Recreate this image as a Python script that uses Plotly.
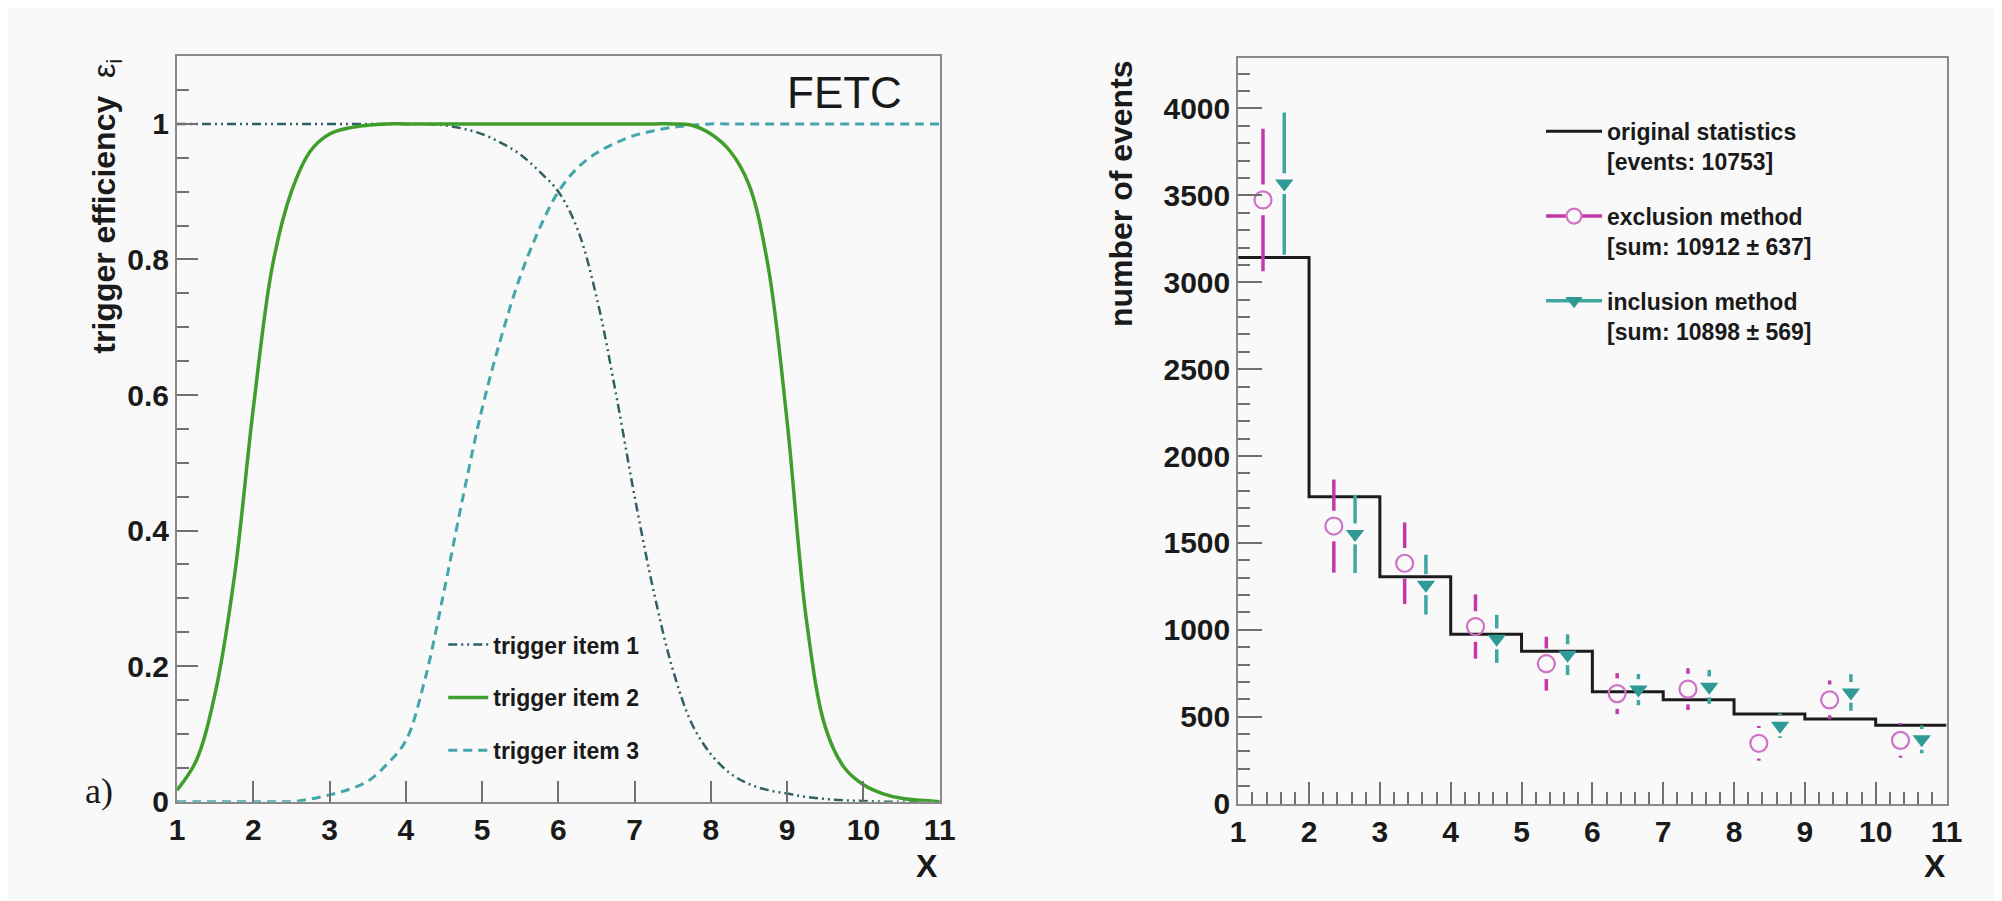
import plotly.graph_objects as go

# ---------------- data: left panel (trigger efficiencies) ----------------
x_eff = [1.0, 1.25, 1.5, 1.75, 2.0, 2.25, 2.5, 2.75, 3.0, 3.25, 3.5, 3.75, 4.0, 4.25,
         4.5, 4.75, 5.0, 5.25, 5.5, 5.75, 6.0, 6.25, 6.5, 6.75, 7.0, 7.25, 7.5, 7.75,
         8.0, 8.25, 8.5, 8.75, 9.0, 9.25, 9.5, 9.75, 10.0, 10.25, 10.5, 10.75, 11.0]
item1 = [1, 1, 1, 1, 1, 1, 1, 1, 1, 1, 1, 1, 1, 1,
         0.998, 0.993, 0.985, 0.972, 0.955, 0.93, 0.9, 0.845, 0.745, 0.605, 0.45, 0.31, 0.195, 0.115,
         0.07, 0.042, 0.026, 0.017, 0.012, 0.007, 0.004, 0.002, 0.001, 0, 0, 0, 0]
item2 = [0.017, 0.06, 0.16, 0.33, 0.58, 0.79, 0.9, 0.96, 0.985, 0.994, 0.998, 1, 1, 1,
         1, 1, 1, 1, 1, 1, 1, 1, 1, 1, 1, 1, 1, 0.998,
         0.985, 0.96, 0.91, 0.79, 0.56, 0.27, 0.11, 0.05, 0.025, 0.012, 0.005, 0.002, 0.0]
item3 = [0, 0, 0, 0, 0, 0, 0, 0.004, 0.01, 0.018, 0.03, 0.055, 0.09, 0.18,
         0.31, 0.45, 0.58, 0.685, 0.775, 0.845, 0.9, 0.935, 0.957, 0.972, 0.983, 0.99, 0.995, 0.998,
         1, 1, 1, 1, 1, 1, 1, 1, 1, 1, 1, 1, 1]
eff_names = ["trigger item 1", "trigger item 2", "trigger item 3"]

# ---------------- data: right panel (number of events) ----------------
bin_edges = [1, 2, 3, 4, 5, 6, 7, 8, 9, 10, 11]
orig_counts = [3143, 1766, 1305, 974, 877, 643, 597, 516, 487, 451]
excl_val = [3474, 1597, 1383, 1019, 805, 633, 659, 347, 597, 364]
excl_err = [410, 268, 235, 185, 155, 118, 120, 100, 112, 100]
incl_val = [3568, 1552, 1260, 948, 857, 656, 672, 448, 640, 370]
incl_err = [409, 225, 172, 138, 117, 90, 98, 70, 105, 80]
hist_names = ["original statistics<br>[events: 10753]",
              "exclusion method<br>[sum: 10912 ± 637]",
              "inclusion method<br>[sum: 10898 ± 569]"]

# ---------------- style ----------------
FONT = "Liberation Sans, Arial, Helvetica, sans-serif"
BG = "#f9f9f9"
FRAME = "#8a8a8a"
TICKC = "#707070"
TXT = "#1a1a1a"
C_ITEM1 = "#2e6164"
C_ITEM2 = "#3f9e2c"
C_ITEM3 = "#43a6ab"
C_EX_BAR = "#c23aa8"
C_EX_MK = "#cf72c6"
C_IN = "#2f9a95"
C_IN_BAR = "#3fa7a2"
EX_OFF, IN_OFF = 0.35, 0.65     # horizontal placement inside the bin
EX_GAP, IN_GAP = 88, 60         # gap of error bars around the markers (events)

fig = go.Figure()

# left panel curves
fig.add_trace(go.Scatter(x=x_eff, y=item1, mode="lines", name=eff_names[0],
                         line=dict(color=C_ITEM1, width=2.5, shape="spline",
                                   dash="9px,4px,2px,4px,2px,4px"),
                         xaxis="x", yaxis="y", legend="legend", legendgroup="i1", legendrank=1))
fig.add_trace(go.Scatter(x=x_eff, y=item3, mode="lines", name=eff_names[2],
                         line=dict(color=C_ITEM3, width=3, shape="spline", dash="9px,6px"),
                         xaxis="x", yaxis="y", legend="legend", legendgroup="i3", legendrank=3))
fig.add_trace(go.Scatter(x=x_eff, y=item2, mode="lines", name=eff_names[1],
                         line=dict(color=C_ITEM2, width=3.5, shape="spline"),
                         xaxis="x", yaxis="y", legend="legend", legendgroup="i2", legendrank=2))


def bar_segments(xs, vals, errs, gap):
    sx, sy = [], []
    for x, v, e in zip(xs, vals, errs):
        if e > gap:
            sx += [x, x, None, x, x, None]
            sy += [v - e, v - gap, None, v + gap, v + e, None]
    return sx, sy


centers_ex = [e + EX_OFF for e in bin_edges[:-1]]
centers_in = [e + IN_OFF for e in bin_edges[:-1]]

# right panel: histogram
fig.add_trace(go.Scatter(x=bin_edges, y=orig_counts + [orig_counts[-1]], mode="lines",
                         line=dict(color="#1c1c1c", width=3, shape="hv"),
                         name=hist_names[0], xaxis="x2", yaxis="y2",
                         legend="legend2", legendgroup="h1", legendrank=1))

# exclusion method
ex_sx, ex_sy = bar_segments(centers_ex, excl_val, excl_err, EX_GAP)
fig.add_trace(go.Scatter(x=ex_sx, y=ex_sy, mode="lines", line=dict(color=C_EX_BAR, width=3.5),
                         showlegend=False, xaxis="x2", yaxis="y2", hoverinfo="skip"))
fig.add_trace(go.Scatter(x=centers_ex, y=excl_val, mode="markers",
                         marker=dict(symbol="circle-open", size=17, color=C_EX_MK,
                                     line=dict(width=2.2, color=C_EX_MK)),
                         showlegend=False, xaxis="x2", yaxis="y2"))

# inclusion method
in_sx, in_sy = bar_segments(centers_in, incl_val, incl_err, IN_GAP)
fig.add_trace(go.Scatter(x=in_sx, y=in_sy, mode="lines", line=dict(color=C_IN_BAR, width=3.5),
                         showlegend=False, xaxis="x2", yaxis="y2", hoverinfo="skip"))
fig.add_trace(go.Scatter(x=centers_in, y=incl_val, mode="markers",
                         marker=dict(symbol="triangle-down", size=16, color=C_IN,
                                     line=dict(width=0)),
                         showlegend=False, xaxis="x2", yaxis="y2"))

# legend-only entries for the methods
fig.add_trace(go.Scatter(x=[None], y=[None], mode="lines+markers", name=hist_names[1],
                         line=dict(color=C_EX_BAR, width=3.5),
                         marker=dict(symbol="circle", size=15, color=BG,
                                     line=dict(width=2.2, color=C_EX_MK)),
                         xaxis="x2", yaxis="y2", legend="legend2", legendgroup="h2", legendrank=2))
fig.add_trace(go.Scatter(x=[None], y=[None], mode="lines+markers", name=hist_names[2],
                         line=dict(color=C_IN_BAR, width=3.5),
                         marker=dict(symbol="triangle-down", size=15, color=C_IN),
                         xaxis="x2", yaxis="y2", legend="legend2", legendgroup="h3", legendrank=3))

axis_common = dict(showline=True, linecolor=FRAME, linewidth=2, mirror=True,
                   showgrid=False, zeroline=False, ticks="inside", tickcolor=TICKC,
                   tickwidth=2, tickfont=dict(family=FONT, size=30, color=TXT, weight="bold"))

fig.update_layout(
    width=2002, height=901,
    margin=dict(l=0, r=0, t=0, b=0),
    paper_bgcolor=BG, plot_bgcolor=BG,
    font=dict(family=FONT, color=TXT),
    xaxis=dict(domain=[0.0814, 0.4670], range=[1, 11], dtick=1, tick0=1, ticklen=21,
               anchor="y", **axis_common),
    yaxis=dict(domain=[0.1032, 0.9456], range=[0, 1.1], dtick=0.2, tick0=0, ticklen=21,
               minor=dict(dtick=0.05, ticklen=12, ticks="inside", tickcolor=TICKC, tickwidth=2),
               anchor="x", **axis_common),
    xaxis2=dict(domain=[0.6179, 0.9760], range=[1, 11], dtick=1, tick0=1, ticklen=22,
                minor=dict(dtick=0.2, ticklen=12, ticks="inside", tickcolor=TICKC, tickwidth=2),
                anchor="y2", **axis_common),
    yaxis2=dict(domain=[0.1010, 0.9434], range=[0, 4290], dtick=500, tick0=0, ticklen=24,
                minor=dict(dtick=100, ticklen=12, ticks="inside", tickcolor=TICKC, tickwidth=2),
                anchor="x2", **axis_common),
    legend=dict(x=0.216, y=0.305, xanchor="left", yanchor="top",
                bgcolor="rgba(0,0,0,0)", borderwidth=0, itemwidth=40,
                tracegroupgap=20, traceorder="grouped",
                font=dict(family=FONT, size=23, color=TXT, weight="bold")),
    legend2=dict(x=0.771, y=0.885, xanchor="left", yanchor="top",
                 bgcolor="rgba(0,0,0,0)", borderwidth=0, itemwidth=56,
                 tracegroupgap=22, traceorder="grouped", valign="top",
                 font=dict(family=FONT, size=23, color=TXT, weight="bold")),
    showlegend=True,
)

annotations = [
    dict(text="FETC", x=0.449, y=0.9045, xanchor="right", yanchor="middle",
         font=dict(family=FONT, size=44, color=TXT)),
    dict(text="a)", x=0.042, y=0.1154, xanchor="center", yanchor="middle",
         font=dict(family="Liberation Serif, Times New Roman, serif", size=36, color=TXT)),
    dict(text="X", x=0.4605, y=0.031, xanchor="center", yanchor="middle",
         font=dict(family=FONT, size=32, color=TXT, weight="bold")),
    dict(text="X", x=0.9700, y=0.031, xanchor="center", yanchor="middle",
         font=dict(family=FONT, size=32, color=TXT, weight="bold")),
    dict(text="<b>trigger efficiency</b>  ε<sub>i</sub>", x=0.046, y=0.9456,
         xanchor="center", yanchor="top", textangle=-90,
         font=dict(family=FONT, size=32, color=TXT)),
    dict(text="<b>number of events</b>", x=0.5584, y=0.9434,
         xanchor="center", yanchor="top", textangle=-90,
         font=dict(family=FONT, size=32, color=TXT)),
]
for a in annotations:
    a.update(xref="paper", yref="paper", showarrow=False)
fig.update_layout(annotations=annotations)

fig.write_html("out.html")
